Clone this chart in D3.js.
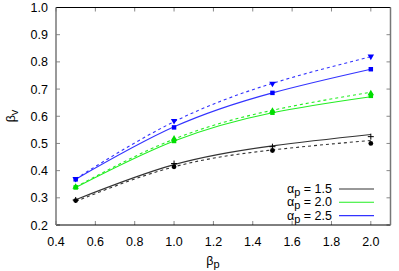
<!DOCTYPE html>
<html>
<head>
<meta charset="utf-8">
<script src="https://cdn.jsdelivr.net/npm/d3@7"></script>
<style>
  body { margin: 0; background: #fff; }
  svg { display: block; font-family: "Liberation Sans", Arial, sans-serif; }
</style>
</head>
<body>
<svg width="399" height="271"></svg>
<script>
// beta_p values where runs were made
var betaP = [0.5, 1.0, 1.5, 2.0];

// alpha_p = 1.5
var a15Solid = [0.293, 0.422, 0.491, 0.533];
var a15Dash = [0.287, 0.414, 0.476, 0.511];
var a15Plus = [0.292, 0.426, 0.488, 0.525];
var a15Dot = [0.290, 0.414, 0.474, 0.500];

// alpha_p = 2.0
var a20Solid = [0.338, 0.509, 0.613, 0.672];
var a20Dash = [0.340, 0.516, 0.622, 0.688];
var a20Sq = [0.338, 0.509, 0.613, 0.675];
var a20Tri = [0.340, 0.517, 0.619, 0.684];

// alpha_p = 2.5
var a25Solid = [0.368, 0.561, 0.686, 0.773];
var a25Dash = [0.370, 0.580, 0.721, 0.819];
var a25Sq = [0.368, 0.559, 0.686, 0.773];
var a25Tri = [0.370, 0.583, 0.720, 0.820];

var xTicks = [0.4, 0.6, 0.8, 1.0, 1.2, 1.4, 1.6, 1.8, 2.0];
var yTicks = [0.2, 0.3, 0.4, 0.5, 0.6, 0.7, 0.8, 0.9, 1.0];
var legendLabels = ["1.5", "2.0", "2.5"];

var svg = d3.select("svg");
var pLeft = 56, pRight = 390.5, pTop = 7.5, pBottom = 225;

var x = d3.scaleLinear().domain([0.4, 2.1]).range([pLeft, pRight]);
var y = d3.scaleLinear().domain([0.2, 1.0]).range([pBottom, pTop]);

var series = [
    { color: "#333333", mark: "#000", solid: a15Solid, dash: a15Dash, m1: a15Plus, t1: "plus", m2: a15Dot, t2: "circle" },
    { color: "#22ee22", mark: "#00dd00", solid: a20Solid, dash: a20Dash, m1: a20Sq, t1: "square", m2: a20Tri, t2: "triangle" },
    { color: "#3333ff", mark: "#0000ff", solid: a25Solid, dash: a25Dash, m1: a25Sq, t1: "square", m2: a25Tri, t2: "triangledown" }
];

// ticks (inward, mirrored)
var tk = svg.append("g").attr("stroke", "#888").attr("stroke-width", 1);
xTicks.forEach(function (v) {
    tk.append("line").attr("x1", x(v)).attr("x2", x(v)).attr("y1", pBottom).attr("y2", pBottom - 4);
    tk.append("line").attr("x1", x(v)).attr("x2", x(v)).attr("y1", pTop).attr("y2", pTop + 4);
});
yTicks.forEach(function (v) {
    tk.append("line").attr("x1", pLeft).attr("x2", pLeft + 4).attr("y1", y(v)).attr("y2", y(v));
    tk.append("line").attr("x1", pRight).attr("x2", pRight - 4).attr("y1", y(v)).attr("y2", y(v));
});

// curves
var line = function (vals) {
    return d3.line()
        .x(function (d, i) { return x(betaP[i]); })
        .y(function (d) { return y(d); })
        .curve(d3.curveNatural)(vals);
};

series.forEach(function (s) {
    svg.append("path").attr("d", line(s.solid)).attr("fill", "none")
        .attr("stroke", s.color).attr("stroke-width", 1.1);
    svg.append("path").attr("d", line(s.dash)).attr("fill", "none")
        .attr("stroke", s.color).attr("stroke-width", 1.1).attr("stroke-dasharray", "3,3");
});

var symbols = {
    circle: d3.symbol().type(d3.symbolCircle).size(18),
    square: d3.symbol().type(d3.symbolSquare).size(20),
    triangle: d3.symbol().type(d3.symbolTriangle).size(18),
    triangledown: d3.symbol().type(d3.symbolTriangle).size(18)
};

function drawMarks(vals, type, color) {
    vals.forEach(function (v, i) {
        var px = x(betaP[i]), py = y(v);
        if (type == "plus") {
            svg.append("path")
                .attr("d", "M" + (px - 3) + "," + py + "H" + (px + 3) + "M" + px + "," + (py - 3) + "V" + (py + 3))
                .attr("stroke", color).attr("stroke-width", 1);
        } else {
            var rot = type == "triangledown" ? " rotate(180)" : "";
            svg.append("path").attr("d", symbols[type]())
                .attr("transform", "translate(" + px + "," + py + ")" + rot)
                .attr("fill", color);
        }
    });
}

series.forEach(function (s) {
    drawMarks(s.m2, s.t2, s.mark);
    drawMarks(s.m1, s.t1, s.mark);
});

// border
svg.append("line").attr("x1", pLeft).attr("x2", pRight).attr("y1", pTop).attr("y2", pTop).attr("stroke", "#000");
svg.append("line").attr("x1", pLeft).attr("x2", pRight).attr("y1", pBottom).attr("y2", pBottom).attr("stroke", "#000");
svg.append("line").attr("x1", pLeft).attr("x2", pLeft).attr("y1", pTop).attr("y2", pBottom).attr("stroke", "#777").attr("stroke-width", 1.5);
svg.append("line").attr("x1", pRight).attr("x2", pRight).attr("y1", pTop).attr("y2", pBottom).attr("stroke", "#777").attr("stroke-width", 1.5);

// tick labels
svg.append("g").selectAll("text").data(xTicks).enter().append("text")
    .attr("x", function (d) { return x(d); }).attr("y", 246)
    .attr("text-anchor", "middle").attr("font-size", 12.5)
    .text(function (d) { return d.toFixed(1); });
svg.append("g").selectAll("text").data(yTicks).enter().append("text")
    .attr("x", 48).attr("y", function (d) { return y(d) + 4.5; })
    .attr("text-anchor", "end").attr("font-size", 12.5)
    .text(function (d) { return d.toFixed(1); });

// axis titles
var xt = svg.append("text").attr("x", 213).attr("y", 265).attr("font-size", 12.5).attr("text-anchor", "middle");
xt.append("tspan").text("β");
xt.append("tspan").attr("dy", 3).attr("font-size", 11).text("p");

var yt = svg.append("text").attr("transform", "translate(15,116) rotate(-90)").attr("font-size", 12.5).attr("text-anchor", "middle");
yt.append("tspan").text("β");
yt.append("tspan").attr("dy", 3).attr("font-size", 11).text("v");

// legend
series.forEach(function (s, i) {
    var ly = 189 + i * 13.3;
    var t = svg.append("text").attr("x", 332).attr("y", ly + 4).attr("text-anchor", "end").attr("font-size", 12.5);
    t.append("tspan").text("α");
    t.append("tspan").attr("dy", 3).attr("font-size", 11).text("p");
    t.append("tspan").attr("dy", -3).text(" = " + legendLabels[i]);
    svg.append("line").attr("x1", 339).attr("x2", 374).attr("y1", ly).attr("y2", ly)
        .attr("stroke", s.color).attr("stroke-width", 1.1);
});
</script>
</body>
</html>
